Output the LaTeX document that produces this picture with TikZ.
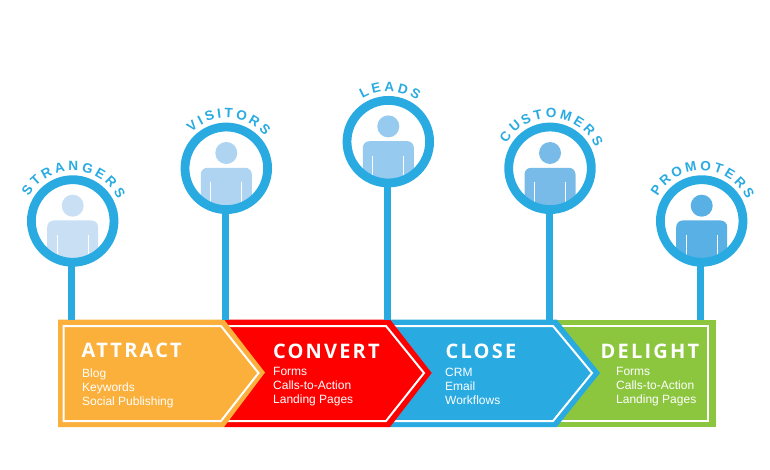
\documentclass[tikz,border=0pt]{standalone}
\usepackage{fontspec}
\usetikzlibrary{decorations.text}
\setmainfont{Liberation Sans}
\newfontfamily\titlefnt[LetterSpace=11,Kerning=Off]{Open Sans}
\newfontfamily\arcfnt{Liberation Sans Bold}
\definecolor{ringblue}{HTML}{29ABE2}
\definecolor{stageorange}{HTML}{FBB03B}
\definecolor{stagered}{HTML}{FF0000}
\definecolor{stagegreen}{HTML}{8CC63F}
\definecolor{pa}{HTML}{C8DFF4}
\definecolor{pb}{HTML}{AED4F1}
\definecolor{pc}{HTML}{96CAEE}
\definecolor{pd}{HTML}{78BBE9}
\definecolor{pe}{HTML}{58B0E5}
\tikzset{
  ringnode/.style={circle,draw=ringblue,line width=8.8pt,minimum size=82.6pt,inner sep=0pt,outer sep=0pt},
  stemline/.style={draw=ringblue,line width=7pt},
  innerline/.style={draw=white,line width=2pt,line join=miter},
  titletext/.style={text=white,inner sep=0pt,anchor=base west,font=\titlefnt\bfseries\fontsize{20}{20}\selectfont},
  listtext/.style={text=white,inner sep=0pt,anchor=north west,align=left,font=\fontsize{12}{14.1}\selectfont},
}
% #1 name, #2 x, #3 y, #4 body colour, #5 label, #6 start angle, #7 end angle
\newcommand{\personring}[7]{%
  \begin{scope}
    \clip (#2,#3) circle[radius=37.5];
    \fill[#4] (#2,#3-15.3) circle[radius=11];
    \fill[#4,rounded corners=6.5pt] (#2-25.5,#3+50) -- (#2-25.5,#3-0.5) -- (#2+25.5,#3-0.5) -- (#2+25.5,#3+50) -- cycle;
    \draw[white,line width=1.3pt] (#2-15.5,#3+14) -- (#2-15.5,#3+45);
    \draw[white,line width=1.3pt] (#2+15.5,#3+14) -- (#2+15.5,#3+45);
  \end{scope}
  \node[ringnode] (#1) at (#2,#3) {};
  \path[decorate,decoration={text along path,text align={fit to path},
     text={|\arcfnt\fontsize{13.5}{13.5}\selectfont\color{ringblue}|#5}}]
     ({#2+50.2*cos(#6)},{#3-50.2*sin(#6)}) arc[start angle=-#6,end angle=-#7,radius=50.2];
}
\begin{document}
\begin{tikzpicture}[x=1pt,y=-1pt]
\useasboundingbox (0,0) rectangle (770,470);
\fill[white] (0,0) rectangle (770,470);
% stages, back to front
\fill[stagegreen] (556,319.5) -- (715.5,319.5) -- (715.5,427) -- (556,427) -- cycle;
\draw[innerline] (558,326) -- (708,326) -- (708,421) -- (558,421);
\fill[ringblue] (390,319.5) -- (556.7,319.5) -- (600,373) -- (556.7,427) -- (390,427) -- cycle;
\draw[innerline] (392,326) -- (553,326) -- (592,373) -- (553,421) -- (392,421);
\fill[stagered] (224,319.5) -- (390,319.5) -- (431.7,373) -- (390,427) -- (224,427) -- cycle;
\draw[innerline] (226,326) -- (386,326) -- (424,373) -- (386,421) -- (226,421);
\fill[stageorange] (58,319.5) -- (224,319.5) -- (265,372.5) -- (224,427) -- (58,427) -- cycle;
\draw[innerline] (63.5,326) -- (221,326) -- (258.5,373) -- (221,421) -- (63.5,421) -- cycle;
% people
\personring{strangers}{72.7}{221}{pa}{STRANGERS}{151}{26}
\personring{visitors}{226.3}{168.3}{pb}{VISITORS}{134}{40}
\personring{leads}{388.3}{141.7}{pc}{LEADS}{121}{55}
\personring{customers}{550}{168.3}{pd}{CUSTOMERS}{150}{25}
\personring{promoters}{701.7}{221}{pe}{PROMOTERS}{151}{26}
% stems
\coordinate (s1) at (71.7,320);
\coordinate (s2) at (225,320);
\coordinate (s3) at (387.3,320);
\coordinate (s4) at (549,320);
\coordinate (s5) at (700.7,320);
\draw[stemline] (strangers.south -| s1) -- (s1);
\draw[stemline] (visitors.south -| s2) -- (s2);
\draw[stemline] (leads.south -| s3) -- (s3);
\draw[stemline] (customers.south -| s4) -- (s4);
\draw[stemline] (promoters.south -| s5) -- (s5);
% texts
\node[titletext] (t1) at (81.5,357.3) {ATTRACT};
\node[titletext] (t2) at (272.8,358.3) {CONVERT};
\node[titletext] (t3) at (445.5,358) {CLOSE};
\node[titletext] (t4) at (600.5,358) {DELIGHT};
\node[listtext] (l1) at (82,368.5) {Blog\\Keywords\\Social Publishing};
\node[listtext] (l2) at (273,367) {Forms\\Calls-to-Action\\Landing Pages};
\node[listtext] (l3) at (445,368) {CRM\\Email\\Workflows};
\node[listtext] (l4) at (616,367) {Forms\\Calls-to-Action\\Landing Pages};
\end{tikzpicture}
\end{document}
